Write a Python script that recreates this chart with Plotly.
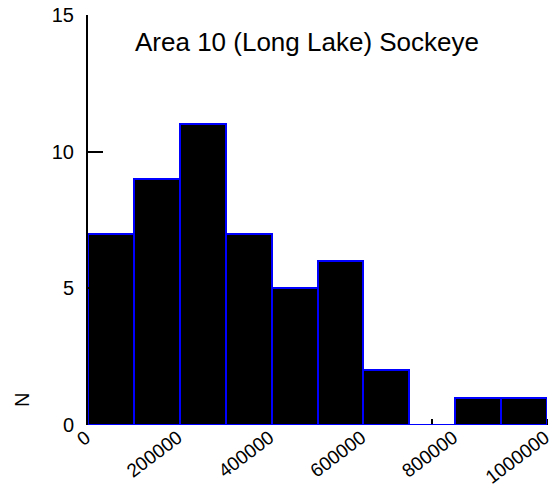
import plotly.graph_objects as go

# Data
bin_edges = [0, 100000, 200000, 300000, 400000, 500000, 600000, 700000, 800000, 900000, 1000000]
counts = [7, 9, 11, 7, 5, 6, 2, 0, 1, 1]
x_tick_vals = [0, 200000, 400000, 600000, 800000, 1000000]
x_tick_text = ["0", "200000", "400000", "600000", "800000", "1000000"]
y_tick_vals = [0, 5, 10, 15]
title_text = "Area 10 (Long Lake) Sockeye"
y_title = "N"

centers = [(a + b) / 2 for a, b in zip(bin_edges[:-1], bin_edges[1:])]
widths = [b - a for a, b in zip(bin_edges[:-1], bin_edges[1:])]

FONT = "Liberation Sans, Arial, sans-serif"

fig = go.Figure()
fig.add_trace(go.Bar(
    x=centers, y=counts, width=widths,
    marker=dict(color="black", line=dict(color="#0000ff", width=2)),
    showlegend=False,
))

fig.update_layout(
    width=555, height=491,
    margin=dict(l=88, r=8, t=15, b=66),
    paper_bgcolor="white", plot_bgcolor="white",
    bargap=0,
    font=dict(family=FONT, size=20, color="black"),
    xaxis=dict(
        range=[bin_edges[0], bin_edges[-1]],
        tickmode="array", tickvals=x_tick_vals, ticktext=x_tick_text,
        tickangle=-37, ticks="", showline=False, showgrid=False, zeroline=False,
        tickfont=dict(family=FONT, size=19, color="black"),
        ticklabeloverflow="allow", automargin=False,
        ticklabelshift=-2, ticklabelstandoff=-3,
        layer="below traces",
        minor=dict(ticks="inside", dtick=250000, tick0=0, ticklen=6, tickwidth=2,
                   tickcolor="black", showgrid=False),
    ),
    yaxis=dict(
        range=[0, 15],
        tickmode="array", tickvals=y_tick_vals,
        ticks="inside", ticklen=15, tickwidth=2, tickcolor="black",
        showline=True, linecolor="black", linewidth=2,
        showgrid=False, zeroline=False, automargin=False,
        tickfont=dict(family=FONT, size=20, color="black"),
        ticklabelstandoff=8,
    ),
    annotations=[
        dict(text=title_text, xref="paper", yref="paper", x=(133 - 88) / 459, y=1 - (42 - 15) / 410,
             xanchor="left", yanchor="middle", showarrow=False,
             font=dict(family=FONT, size=26, color="black")),
        dict(text=y_title, xref="paper", yref="paper", x=-(88 - 22) / 459, y=(425 - 400) / 410,
             xanchor="center", yanchor="middle", showarrow=False, textangle=-90,
             font=dict(family=FONT, size=20, color="black")),
    ],
)

fig.write_html("out.html")
